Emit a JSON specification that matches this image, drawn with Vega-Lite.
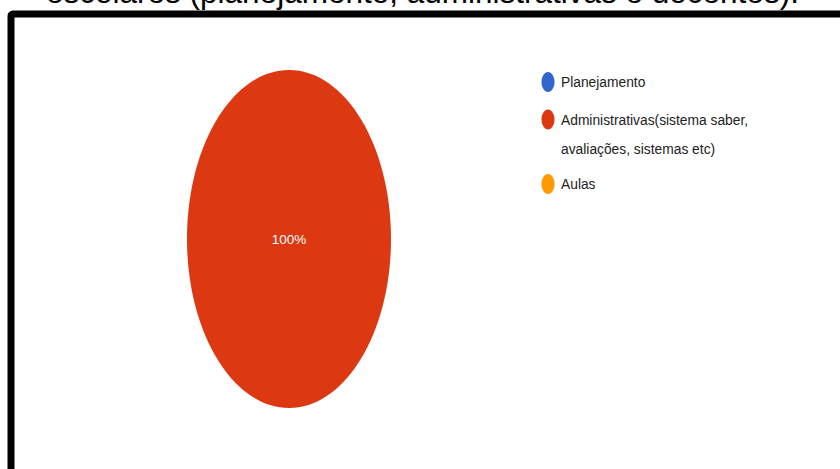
{
  "$schema": "https://vega.github.io/schema/vega-lite/v6.json",
  "width": 834,
  "height": 460,
  "autosize": {"type": "none"},
  "padding": {"left": 11, "top": 14, "right": -5, "bottom": -5},
  "background": "white",
  "view": {"stroke": "#000000", "strokeWidth": 7, "cornerRadius": 2},
  "title": {
    "text": "escolares (planejamento, administrativas e docentes).",
    "anchor": "start",
    "frame": "group",
    "font": "Liberation Sans, Arial, sans-serif",
    "fontSize": 31.5,
    "fontWeight": "normal",
    "color": "#000000",
    "baseline": "alphabetic",
    "offset": 0,
    "dx": 35,
    "dy": 20
  },
  "data": {
    "values": [
      {"categoria": "Planejamento", "proporcao": 0},
      {"categoria": "Administrativas(sistema saber, avaliações, sistemas etc)", "proporcao": 1},
      {"categoria": "Aulas", "proporcao": 0}
    ]
  },
  "transform": [{"filter": "datum.proporcao > 0"}],
  "layer": [
    {
      "mark": {
        "type": "point",
        "filled": true,
        "opacity": 1,
        "shape": "M0,-1C0.3334,-1,0.6036,-0.5523,0.6036,0C0.6036,0.5523,0.3334,1,0,1C-0.3334,1,-0.6036,0.5523,-0.6036,0C-0.6036,-0.5523,-0.3334,-1,0,-1Z",
        "size": 114244,
        "xOffset": -139,
        "yOffset": -5
      },
      "encoding": {
        "color": {
          "field": "categoria",
          "type": "nominal",
          "scale": {
            "domain": ["Planejamento", "Administrativas(sistema saber, avaliações, sistemas etc)", "Aulas"],
            "range": ["#3366cc", "#dc3912", "#ff9900"]
          },
          "legend": {
            "orient": "none",
            "legendX": 527,
            "legendY": 58,
            "title": null,
            "symbolType": "M0,-1C0.359,-1,0.65,-0.5523,0.65,0C0.65,0.5523,0.359,1,0,1C-0.359,1,-0.65,0.5523,-0.65,0C-0.65,-0.5523,-0.359,-1,0,-1Z",
            "symbolSize": 400,
            "symbolStrokeWidth": 0,
            "symbolOpacity": 1,
            "labelFont": "Liberation Sans, Arial, sans-serif",
            "labelFontSize": 13.8,
            "labelColor": "#222222",
            "labelOffset": 3,
            "labelLimit": 400,
            "rowPadding": 17.5,
            "labelBaseline": "alphabetic",
            "labelExpr": "datum.label == 'Administrativas(sistema saber, avaliações, sistemas etc)' ? ['Administrativas(sistema saber,', 'avaliações, sistemas etc)'] : datum.label",
            "encode": {
              "labels": {
                "update": {
                  "dy": {"value": 5},
                  "lineHeight": {"value": 29}
                }
              }
            }
          }
        }
      }
    },
    {
      "mark": {
        "type": "text",
        "color": "#ffffff",
        "font": "Liberation Sans, Arial, sans-serif",
        "fontSize": 13.5,
        "baseline": "middle",
        "align": "center",
        "xOffset": -139,
        "yOffset": -4
      },
      "encoding": {
        "text": {"field": "proporcao", "type": "quantitative", "format": ".0%"}
      }
    }
  ]
}
